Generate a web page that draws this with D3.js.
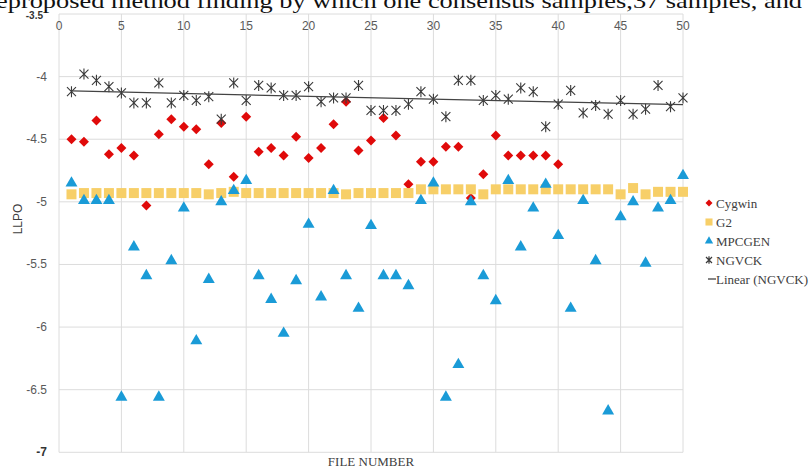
<!DOCTYPE html>
<html>
<head>
<meta charset="utf-8">
<script src="https://cdn.jsdelivr.net/npm/d3@7"></script>
<style>
  body { margin: 0; background: #fff; }
  svg { display: block; }
</style>
</head>
<body>
<script>
// file numbers 1..50
var files = d3.range(1, 51);

// Cygwin only has files 1..40
var cygwin = [-4.50, -4.52, -4.35, -4.62, -4.57, -4.63, -5.03, -4.46, -4.34, -4.40,
              -4.42, -4.70, -4.37, -4.80, -4.32, -4.60, -4.57, -4.63, -4.48, -4.65,
              -4.57, -4.38, -4.20, -4.59, -4.51, -4.33, -4.47, -4.86, -4.68, -4.68,
              -4.56, -4.56, -4.97, -4.78, -4.47, -4.63, -4.63, -4.63, -4.63, -4.70];

var g2 = [-4.94, -4.93, -4.93, -4.93, -4.93, -4.93, -4.93, -4.93, -4.93, -4.93,
          -4.93, -4.94, -4.93, -4.92, -4.93, -4.93, -4.93, -4.93, -4.93, -4.93,
          -4.93, -4.93, -4.94, -4.93, -4.93, -4.93, -4.93, -4.93, -4.90, -4.90,
          -4.90, -4.90, -4.90, -4.94, -4.90, -4.90, -4.90, -4.90, -4.90, -4.90,
          -4.90, -4.90, -4.90, -4.90, -4.94, -4.89, -4.94, -4.92, -4.92, -4.92];

var mpcgen = [-4.85, -4.99, -4.99, -4.99, -6.56, -5.36, -5.59, -6.56, -5.47, -5.05,
              -6.11, -5.62, -5.00, -4.91, -4.83, -5.59, -5.78, -6.05, -5.63, -5.18,
              -5.76, -4.91, -5.59, -5.85, -5.19, -5.59, -5.59, -5.67, -4.99, -4.85,
              -6.56, -6.30, -5.00, -5.59, -5.79, -4.83, -5.36, -5.05, -4.86, -5.27,
              -5.85, -4.99, -5.47, -6.67, -5.12, -5.00, -5.49, -5.05, -4.99, -4.79];

var ngvck = [-4.12, -3.98, -4.03, -4.08, -4.13, -4.21, -4.21, -4.05, -4.21, -4.15,
             -4.19, -4.16, -4.34, -4.05, -4.19, -4.07, -4.09, -4.15, -4.15, -4.08,
             -4.20, -4.17, -4.17, -4.07, -4.27, -4.27, -4.27, -4.22, -4.12, -4.18,
             -4.32, -4.03, -4.03, -4.19, -4.15, -4.18, -4.09, -4.12, -4.40, -4.22,
             -4.11, -4.29, -4.23, -4.30, -4.19, -4.30, -4.26, -4.07, -4.24, -4.17];

var xTicks = [0, 5, 10, 15, 20, 25, 30, 35, 40, 45, 50];
var yTicks = [-3.5, -4, -4.5, -5, -5.5, -6, -6.5, -7];

var seriesNames = ['Cygwin', 'G2', 'MPCGEN', 'NGVCK', 'Linear (NGVCK)'];

var width = 811,
    height = 470;

var colors = {
    cygwin: '#e00a0a',
    g2: '#f7cf68',
    mpcgen: '#1a9bd7',
    ngvck: '#3a3a3a',
    grid: '#dcdcdc',
    tick: '#595959'
};

var tickFont = '"Liberation Sans Narrow", "Liberation Sans", sans-serif',
    serifFont = '"Liberation Serif", "DejaVu Serif", serif';

var svg = d3.select('body').append('svg')
    .attr('width', width)
    .attr('height', height);

// clipped caption line from the page above the figure
svg.append('text')
    .attr('x', -4)
    .attr('y', 8)
    .attr('textLength', 806)
    .attr('lengthAdjust', 'spacingAndGlyphs')
    .style('font-family', serifFont)
    .style('font-size', '22px')
    .style('fill', '#111')
    .text('eproposed method finding by which one consensus samples,37 samples, and');

var x = d3.scaleLinear().domain([0, 50]).range([59, 683]);
var y = d3.scaleLinear().domain([-7, -3.5]).range([452.3, 14]);

var grid = svg.append('g').attr('class', 'grid');

grid.selectAll('.vline')
    .data(xTicks)
    .enter().append('line')
        .attr('x1', function(d) { return x(d); })
        .attr('x2', function(d) { return x(d); })
        .attr('y1', y(-3.5))
        .attr('y2', y(-7))
        .style('stroke', colors.grid)
        .style('stroke-width', 1);

grid.selectAll('.hline')
    .data(yTicks)
    .enter().append('line')
        .attr('x1', x(0))
        .attr('x2', x(50))
        .attr('y1', function(d) { return y(d); })
        .attr('y2', function(d) { return y(d); })
        .style('stroke', colors.grid)
        .style('stroke-width', 1);

// x tick labels sit just under the top edge
svg.append('g').selectAll('text')
    .data(xTicks)
    .enter().append('text')
        .attr('x', function(d) { return x(d); })
        .attr('y', 30)
        .attr('text-anchor', 'middle')
        .style('font-family', tickFont)
        .style('font-size', '12px')
        .style('fill', colors.tick)
        .text(function(d) { return d; });

svg.append('g').selectAll('text')
    .data(yTicks)
    .enter().append('text')
        .attr('x', function(d) { return d == -3.5 ? 43 : 47; })
        .attr('y', function(d) { return d == -3.5 ? y(d) + 5 : y(d) + 4; })
        .attr('text-anchor', 'end')
        .style('font-family', tickFont)
        .style('font-size', d => d == -3.5 ? '10px' : '12px')
        .style('fill', d => d == -3.5 || d == -7 ? '#333' : colors.tick)
        .style('font-weight', d => d == -3.5 || d == -7 ? 'bold' : 'normal')
        .text(function(d) { return d; });

svg.append('text')
    .attr('transform', 'translate(22, 219) rotate(-90)')
    .attr('text-anchor', 'middle')
    .style('font-family', tickFont)
    .style('font-size', '12px')
    .style('fill', '#404040')
    .text('LLPO');

svg.append('text')
    .attr('x', 371)
    .attr('y', 466)
    .attr('text-anchor', 'middle')
    .style('font-family', serifFont)
    .style('font-size', '13px')
    .style('fill', '#404040')
    .text('FILE NUMBER');

var starPath = 'M-4.5,-4.5L4.5,4.5M-4.5,4.5L4.5,-4.5M0,-5.5L0,5.5';
var starSmall = 'M-3,-3L3,3M-3,3L3,-3M0,-3.8L0,3.8';
var diamondPath = 'M0,-5L5,0L0,5L-5,0Z';
var diamondSmall = 'M0,-3.5L3.5,0L0,3.5L-3.5,0Z';

var square = d3.symbol().type(d3.symbolSquare).size(100);
var triangle = d3.symbol().type(d3.symbolTriangle).size(62);

var plot = svg.append('g');

plot.selectAll('.cyg')
    .data(cygwin)
    .enter().append('path')
        .attr('transform', function(d, i) { return 'translate(' + x(files[i]) + ',' + y(d) + ')'; })
        .attr('d', diamondPath)
        .style('fill', colors.cygwin);

plot.selectAll('.g2')
    .data(g2)
    .enter().append('path')
        .attr('transform', function(d, i) { return 'translate(' + x(files[i]) + ',' + y(d) + ')'; })
        .attr('d', square)
        .style('fill', colors.g2);

plot.selectAll('.mpc')
    .data(mpcgen)
    .enter().append('path')
        .attr('transform', function(d, i) { return 'translate(' + x(files[i]) + ',' + y(d) + ')'; })
        .attr('d', triangle)
        .style('fill', colors.mpcgen);

plot.selectAll('.ngv')
    .data(ngvck)
    .enter().append('path')
        .attr('transform', function(d, i) { return 'translate(' + x(files[i]) + ',' + y(d) + ')'; })
        .attr('d', starPath)
        .style('fill', 'none')
        .style('stroke', colors.ngvck)
        .style('stroke-width', 1.1);

// least squares trend for NGVCK
var mx = d3.mean(files),
    my = d3.mean(ngvck);
var slope = d3.sum(files, function(f, i) { return (f - mx) * (ngvck[i] - my); }) /
            d3.sum(files, function(f) { return (f - mx) * (f - mx); });
var intercept = my - slope * mx;

plot.append('line')
    .attr('x1', x(1))
    .attr('x2', x(50))
    .attr('y1', y(intercept + slope * 1))
    .attr('y2', y(intercept + slope * 50))
    .style('stroke', '#444')
    .style('stroke-width', 1.3);

// legend
var legend = svg.append('g')
    .attr('transform', 'translate(709, 203)');

var items = legend.selectAll('.item')
    .data(seriesNames)
    .enter().append('g')
        .attr('transform', function(d, i) { return 'translate(0,' + (i * 19) + ')'; });

items.each(function(d, i) {
    var g = d3.select(this);
    if (i == 0) g.append('path').attr('d', diamondSmall).style('fill', colors.cygwin);
    if (i == 1) g.append('path').attr('d', d3.symbol().type(d3.symbolSquare).size(50)).style('fill', colors.g2);
    if (i == 2) g.append('path').attr('d', d3.symbol().type(d3.symbolTriangle).size(30)).style('fill', colors.mpcgen);
    if (i == 3) g.append('path').attr('d', starSmall).style('stroke', colors.ngvck).style('stroke-width', 1.2).style('fill', 'none');
    if (i == 4) g.append('line').attr('x1', -1).attr('x2', 7).style('stroke', '#444').style('stroke-width', 1.3);
});

items.append('text')
    .attr('x', 7)
    .attr('y', 4.5)
    .style('font-family', serifFont)
    .style('font-size', '13px')
    .style('fill', '#404040')
    .text(function(d) { return d; });
</script>
</body>
</html>
